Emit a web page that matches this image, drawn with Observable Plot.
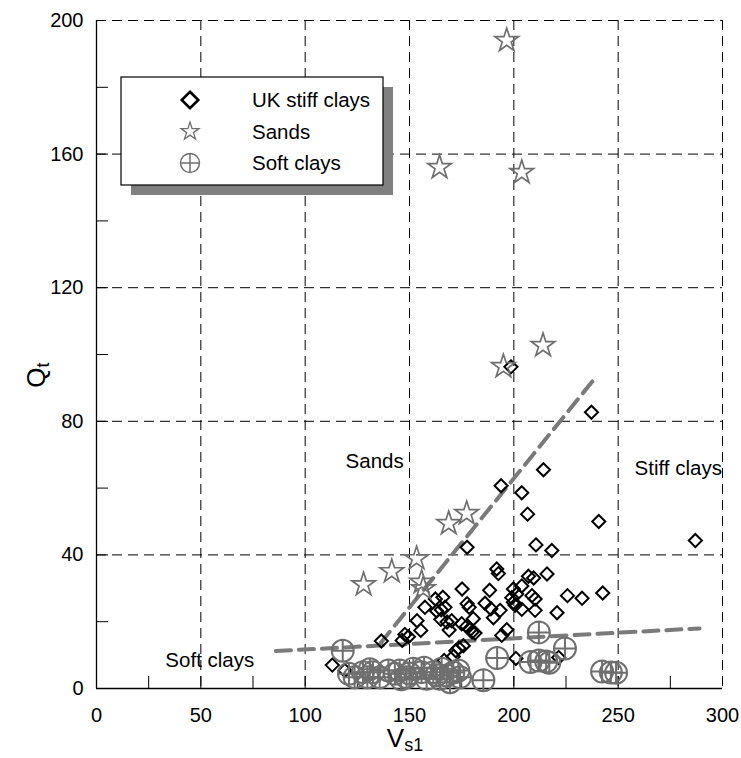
<!DOCTYPE html>
<html><head><meta charset="utf-8">
<script src="https://cdn.jsdelivr.net/npm/d3@7"></script>
<script src="https://cdn.jsdelivr.net/npm/@observablehq/plot@0.6"></script>
<style>body{margin:0;background:#fff} svg{display:block}</style>
</head><body><div id="chart"></div>
<script>
// ---- data ----
const ukV = [113,119,136.5,146.5,147.8,149.5,153.6,155.4,157.4,162.4,166,163,165.2,167,165,168,169,170.2,166.6,171,172.2,173.6,175.8,175.2,175,177.4,179,180,181.4,177.6,178.6,180.6,177.6,186.2,188.4,189,190.2,191.8,192.6,193.4,193.9,194.2,196.6,198.6,199,199.8,200.6,199.8,201.4,203.8,203.8,203.8,206.6,207,209.5,208.7,210.2,210.2,210.6,214.2,215.9,218.2,220.7,225.7,232.7,237.2,240.7,242.6,287,201,221.5];
const ukQ = [7,5.4,14.2,14.4,16.2,15.5,20.3,17.4,24.3,26.8,27.3,23.2,23.6,24.3,20.7,19.9,17.5,20.3,8.4,9.6,11.3,12.1,12.8,29.8,19.4,18.6,17.6,16.9,16.6,25.4,24.3,20.9,42.3,25.5,29.4,23.9,21.2,35.8,34.4,23.4,60.7,15.9,17.6,96.3,27.2,25.8,24.9,29.8,28.3,30.7,58.6,23.7,52.2,33.6,33.1,27.8,26.8,23.4,43,65.5,34.3,41.3,22.7,27.8,27,82.7,50,28.6,44.3,9,9.3];
const sandV = [196.6,164.4,203.8,214,195,177.4,168.8,153.4,141.5,128,155.8,156.6];
const sandQ = [194,156,154.5,102.7,96.4,52.4,49.4,38.9,35,31.1,31.8,29.9];
const softV = [118,121,123.7,127.7,129.8,131,132.5,135.7,139.9,143,145.3,146,148.6,150,151.8,155.8,157,158.2,161.4,163,164.6,165.4,167.8,169.4,171,173.4,174.2,185.4,192,212,224.5,208,212,215.5,217,242.3,246.5,249];
const softQ = [11.3,4.4,3.4,4.9,3.4,5.8,4.9,3.4,5.4,4.4,5.4,2.8,3.4,4.5,5.9,4.9,6.2,2.9,4.9,4,2.9,5.9,3.9,1.9,4.8,5.4,3.4,2.5,9.1,16.8,12,7.9,8.4,8.1,7.7,5.1,4.8,4.7];
const softLineV = [86, 289];
const softLineQ = [11.2, 18];
const sandLineV = [136, 239];
const sandLineQ = [13.5, 93];
const xMajor = [0,50,100,150,200,250,300];
const yMajor = [0,40,80,120,160,200];
const xMinor = [25,50,75,100,125,150,175,200,225,250,275];
const yMinor = [20,40,60,80,100,120,140,160,180];
const zoneNames = ["Sands","Stiff clays","Soft clays"];
const zoneV = [133.3, 278.8, 54.3];
const zoneQ = [68, 65.9, 8.4];
const legendNames = ["UK stiff clays","Sands","Soft clays"];

// ---- build tables ----
const uk = ukV.map((v,i)=>({v, q: ukQ[i]}));
const sands = sandV.map((v,i)=>({v, q: sandQ[i]}));
const soft = softV.map((v,i)=>({v, q: softQ[i]}));
const softLine = softLineV.map((v,i)=>({v, q: softLineQ[i]}));
const sandLine = sandLineV.map((v,i)=>({v, q: sandLineQ[i]}));
const zones = zoneNames.map((t,i)=>({t, v: zoneV[i], q: zoneQ[i]}));

const circlePlus = {
  draw(ctx, size) {
    const r = Math.sqrt(size / Math.PI);
    ctx.moveTo(r, 0); ctx.arc(0, 0, r, 0, 2 * Math.PI);
    ctx.moveTo(-r, 0); ctx.lineTo(r, 0);
    ctx.moveTo(0, -r); ctx.lineTo(0, r);
  }
};

const GRAY = "#6f6f6f";
const FONT = "'Liberation Sans', Arial, Helvetica, sans-serif";

const plot = Plot.plot({
  width: 741, height: 758,
  marginLeft: 96, marginRight: 19, marginTop: 20, marginBottom: 70,
  style: {fontFamily: FONT, fontSize: "20px", background: "#fff", overflow: "visible", color: "#000"},
  x: {domain: [0, 300]},
  y: {domain: [0, 200]},
  marks: [
    Plot.gridX(xMajor.filter(d => d > 0), {stroke: "#000", strokeOpacity: 1, strokeWidth: 1, strokeDasharray: "10,6"}),
    Plot.gridY(yMajor.filter(d => d > 0), {stroke: "#000", strokeOpacity: 1, strokeWidth: 1, strokeDasharray: "10,6"}),
    Plot.axisX(xMinor, {tickSize: -12, tickFormat: () => "", label: null}),
    Plot.axisY(yMinor, {tickSize: -12, tickFormat: () => "", label: null}),
    Plot.axisX(xMajor, {tickSize: 0, tickPadding: 19, label: null, fontSize: 20}),
    Plot.axisY(yMajor, {tickSize: 0, tickPadding: 13, label: null, fontSize: 20}),
    Plot.ruleX([0], {stroke: "#000", strokeWidth: 1.3}),
    Plot.ruleY([0], {stroke: "#000", strokeWidth: 1.3}),
    Plot.line(softLine, {x: "v", y: "q", stroke: "#7a7a7a", strokeWidth: 4, strokeDasharray: "15,8"}),
    Plot.line(sandLine, {x: "v", y: "q", stroke: "#7a7a7a", strokeWidth: 4, strokeDasharray: "15,8"}),
    Plot.dot(uk, {x: "v", y: "q", symbol: "diamond2", r: 5.9, stroke: "#000", strokeWidth: 2, fill: "none"}),
    Plot.dot(sands, {x: "v", y: "q", symbol: "star", r: 7.4, stroke: GRAY, strokeWidth: 1.7, fill: "none"}),
    Plot.dot(soft, {x: "v", y: "q", symbol: circlePlus, r: 11, stroke: GRAY, strokeWidth: 2, fill: "none"}),
    Plot.text(zones, {x: "v", y: "q", text: "t", fontSize: 20.5, fill: "#000"})
  ]
});

const svg = d3.select(plot);
// legend
const lg = svg.append("g").attr("text-anchor", "start");
lg.append("rect").attr("x", 131).attr("y", 87).attr("width", 262).attr("height", 108).attr("fill", "#808080");
lg.append("rect").attr("x", 121).attr("y", 77).attr("width", 262).attr("height", 108).attr("fill", "#fff").attr("stroke", "#000").attr("stroke-width", 1.2);
const rowsY = [100, 131.5, 163];
lg.append("path").attr("transform", `translate(190,${rowsY[0]})`)
  .attr("d", d3.symbol(d3.symbolDiamond2, 175)()).attr("fill", "none").attr("stroke", "#000").attr("stroke-width", 2.6);
lg.append("path").attr("transform", `translate(190,${rowsY[1]})`)
  .attr("d", d3.symbol(d3.symbolStar, 100)()).attr("fill", "none").attr("stroke", GRAY).attr("stroke-width", 1.3);
lg.append("path").attr("transform", `translate(190,${rowsY[2]})`)
  .attr("d", d3.symbol(circlePlus, Math.PI * 90)()).attr("fill", "none").attr("stroke", GRAY).attr("stroke-width", 1.5);
legendNames.forEach((t, i) => {
  lg.append("text").attr("x", 252).attr("y", rowsY[i]).attr("dy", "0.36em").attr("text-anchor", "start")
    .attr("font-family", FONT).attr("font-size", 20.5).attr("fill", "#000").text(t);
});
// axis labels
const xl = svg.append("text").attr("x", 405).attr("y", 747).attr("text-anchor", "middle")
  .attr("font-family", FONT).attr("fill", "#000");
xl.append("tspan").attr("font-size", 26).text("V");
xl.append("tspan").attr("font-size", 18).attr("dy", 4).text("s1");
const yl = svg.append("text").attr("transform", "translate(45,375) rotate(-90)").attr("text-anchor", "middle")
  .attr("font-family", FONT).attr("fill", "#000");
yl.append("tspan").attr("font-size", 26).text("Q");
yl.append("tspan").attr("font-size", 18).attr("dy", 4).text("t");

document.getElementById("chart").append(plot);
</script>
</body></html>
